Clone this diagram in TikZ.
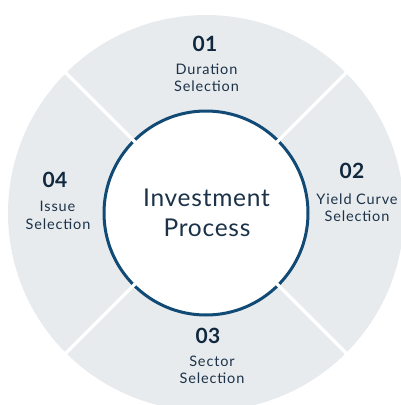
\documentclass[tikz,border=0pt]{standalone}
\usepackage{fontspec}
\setmainfont{Lato}
\newfontfamily\labfont[LetterSpace=6]{Lato}
\newfontfamily\centfont[LetterSpace=3]{Lato}
\newfontfamily\numfont[LetterSpace=2]{Lato Bold}
\usetikzlibrary{calc}
\definecolor{ringgray}{RGB}{232,235,238}
\definecolor{ringblue}{RGB}{17,74,116}
\definecolor{txtcol}{RGB}{27,50,72}
\definecolor{numcol}{RGB}{16,40,62}
\begin{document}
\begin{tikzpicture}[x=1pt,y=-1pt,
  numtxt/.style={font=\numfont\fontsize{21}{24}\selectfont, text=numcol, anchor=base, inner sep=0pt},
  labtxt/.style={font=\labfont\fontsize{14.5}{17}\selectfont, text=txtcol, anchor=base, inner sep=0pt},
  centtxt/.style={font=\centfont\fontsize{24.5}{28}\selectfont, text=txtcol, anchor=base, inner sep=0pt},
  divider/.style={draw=white, line width=3.5pt}]
\useasboundingbox (0,0) rectangle (401,405);
\clip (0,0) rectangle (401,405);
\coordinate (c) at (206,213);
\fill[ringgray] (c) circle (198pt);
\fill[white] (c) circle (102pt);
\draw[ringblue, line width=3pt] (c) circle (102pt);
\foreach \a in {45,135,225,315}
  \draw[divider] ($(c)+(\a:92pt)$) -- ($(c)+(\a:210pt)$);
% center
\node[centtxt] (inv) at (206.5,206) {Investment};
\node[centtxt] (proc) at (207,236) {Process};
% 01
\node[numtxt] (n1) at (205,51) {01};
\node[labtxt] (l1a) at (206.5,74) {Duration};
\node[labtxt] (l1b) at (206.5,91) {Selection};
% 02
\node[numtxt] (n2) at (352,178) {02};
\node[labtxt] (l2a) at (357,204) {Yield Curve};
\node[labtxt] (l2b) at (357,221) {Selection};
% 03
\node[numtxt] (n3) at (208,343) {03};
\node[labtxt] (l3a) at (212,366) {Sector};
\node[labtxt] (l3b) at (212,383) {Selection};
% 04
\node[numtxt] (n4) at (55,187) {04};
\node[labtxt] (l4a) at (57.5,211) {Issue};
\node[labtxt] (l4b) at (58,229) {Selection};
\end{tikzpicture}
\end{document}
